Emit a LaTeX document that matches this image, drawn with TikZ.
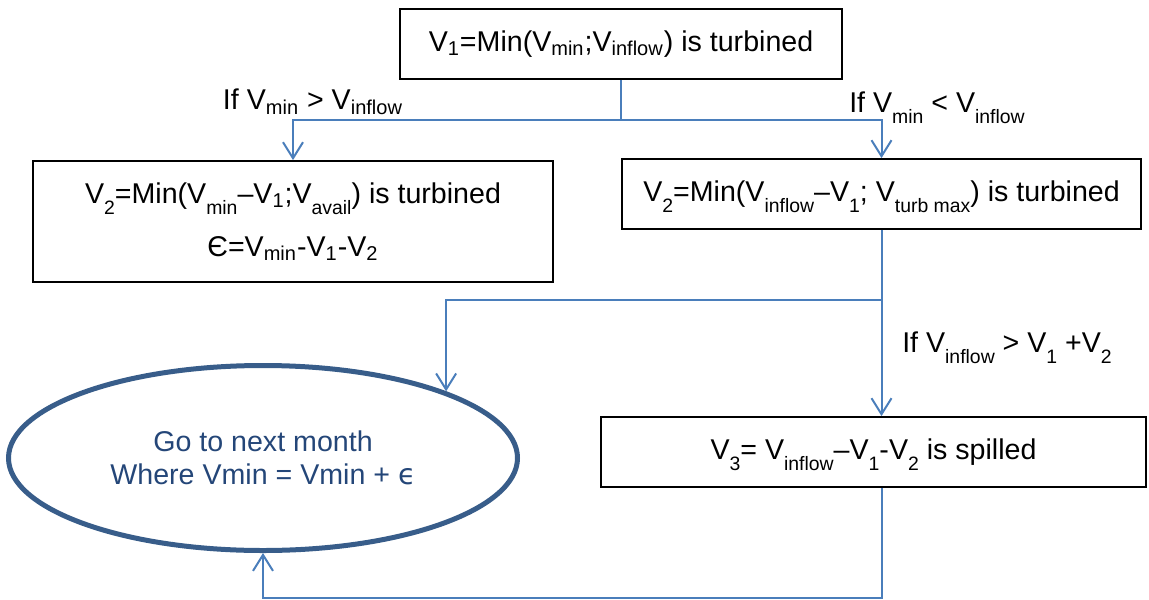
\documentclass[tikz,border=0pt]{standalone}
\usepackage{fontspec}
\setmainfont{Liberation Sans}
\newfontfamily\greekfont{DejaVu Sans}
\usetikzlibrary{shapes.geometric,arrows.meta}
\definecolor{flowblue}{RGB}{74,126,187}
\definecolor{endblue}{RGB}{56,93,138}
\definecolor{endtext}{RGB}{36,70,120}
\newcommand{\ssub}[1]{\textsubscript{#1}}
\newcommand{\lsub}[1]{\raisebox{-5.5pt}[0pt][0pt]{\fontsize{9.7}{10}\selectfont #1}}

\begin{document}
\begin{tikzpicture}[x=0.5pt, y=-0.5pt, font=\fontsize{14.3}{17}\selectfont,
  box/.style={draw, line width=0.9pt, inner sep=0pt, minimum height=35pt, align=center},
  link/.style={->, flowblue, line width=1pt},
  >={Straight Barb[length=8pt,width=10pt]}]
\useasboundingbox (0,0) rectangle (1149,599);
\node[box, minimum width=221pt] (first) at (621,44) {V\ssub{1}=Min(V\ssub{min};V\ssub{inflow}) is turbined};
\node[box, minimum width=260pt, minimum height=60.5pt, font=\fontsize{14.3}{26.5}\selectfont] (short) at (293,221.5)
  {V\lsub{2}=Min(V\lsub{min}–V\ssub{1};V\lsub{avail}) is turbined\\Є=V\ssub{min}-V\ssub{1}-V\ssub{2}};
\node[box, minimum width=259.5pt] (surplus) at (881.5,194) {V\lsub{2}=Min(V\lsub{inflow}–V\lsub{1}; V\lsub{turb max}) is turbined};
\node[box, minimum width=272.5pt] (spill) at (873.5,452) {V\lsub{3}= V\lsub{inflow}–V\lsub{1}-V\lsub{2} is spilled};
\node[draw=endblue, line width=2.5pt, ellipse, inner sep=0pt, minimum width=254.5pt, minimum height=92.5pt,
  text=endtext, align=center, font=\fontsize{14.3}{16.5}\selectfont] (next) at (263,458)
  {Go to next month\\Where Vmin = Vmin + {\greekfont ϵ}};

% conditions
\node (ifless) at (313,102) {If V\ssub{min} > V\ssub{inflow}};
\node (ifmore) at (937,102) {If V\lsub{min} < V\lsub{inflow}};
\node (ifover) at (1007,342) {If V\lsub{inflow} > V\lsub{1} +V\lsub{2}};

% connectors
\draw[flowblue, line width=1pt] (first.south) -- ++(0,40) coordinate (split);
\draw[link] (split) -| (short.north);
\draw[link] (split) -| (surplus.north);
\draw[flowblue, line width=1pt] (surplus.south) -- ++(0,70) coordinate (merge);
\draw[link] (merge) -| (next.20);
\draw[link] (merge) -- (merge |- spill.north);
\draw[link] (spill.south -| merge) -- ++(0,110) -| (next.south);
\end{tikzpicture}
\end{document}
